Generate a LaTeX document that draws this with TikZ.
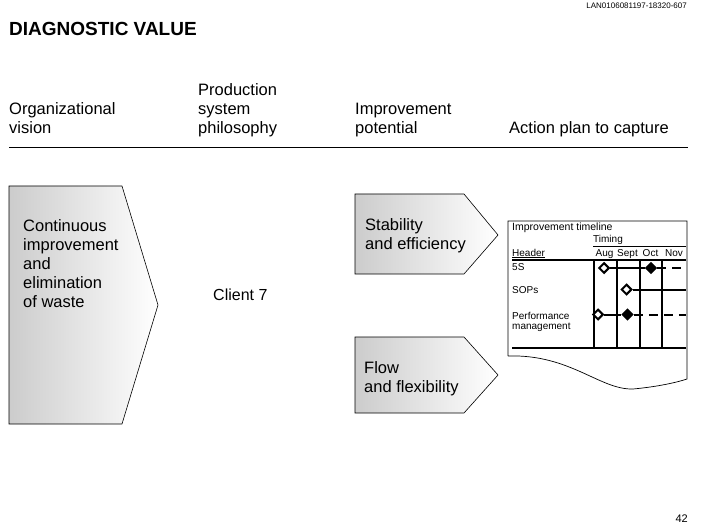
\documentclass[tikz,border=0pt]{standalone}
\usepackage{fontspec}
\setmainfont{Liberation Sans}
\usetikzlibrary{calc,shapes.geometric}
\tikzset{
  hd/.style={anchor=base west,align=left,inner sep=0pt,font=\fontsize{16.5}{19}\selectfont},
  sm/.style={anchor=base west,align=left,inner sep=0pt,font=\fontsize{10}{10.5}\selectfont},
  chevron/.style={draw,line width=.6pt,left color=black!20,right color=white},
  thk/.style={line width=2pt},
  opn/.style={diamond,draw,fill=white,line width=2pt,inner sep=0pt,minimum width=10.5pt,minimum height=10.5pt},
  ful/.style={diamond,fill=black,inner sep=0pt,minimum width=12.5pt,minimum height=12.5pt}
}
\begin{document}
\begin{tikzpicture}[x=1pt,y=-1pt]
\useasboundingbox (0,0) rectangle (706,529);
\node[anchor=base east,inner sep=0pt,font=\fontsize{8}{9}\selectfont] (code) at (687,9) {LAN0106081197-18320-607};
\node[anchor=base west,inner sep=0pt,font=\bfseries\fontsize{19}{22}\selectfont] (title) at (9,36) {DIAGNOSTIC VALUE};
\node[hd] (orgv) at (9,133.5) {Organizational\\vision};
\node[hd] (prod) at (198,133.5) {Production\\system\\philosophy};
\node[hd] (impv) at (355,133.5) {Improvement\\potential};
\node[hd] (act) at (509,133.5) {Action plan to capture};
\draw[line width=.9pt] (9,147.5) -- (688,147.5);
\draw[chevron] (9,186) -- (122,186) -- (158,305) -- (122,424) -- (9,424) -- cycle;
\node[hd] (cont) at (23,307) {Continuous\\improvement\\and\\elimination\\of waste};
\node[hd,font=\fontsize{16}{19}\selectfont] (client) at (213,300) {Client 7};
\draw[chevron] (355,194) -- (464,194) -- (498,235) -- (464,274) -- (355,274) -- cycle;
\node[hd] (stab) at (365,249.5) {Stability\\and efficiency};
\draw[chevron] (355,337) -- (464,337) -- (498,375) -- (464,413) -- (355,413) -- cycle;
\node[hd] (flow) at (364,392) {Flow\\and flexibility};
\draw[line width=.7pt] (508,356) -- (508,221) -- (687,221) -- (687,379) .. controls (675,383) and (655,387) .. (633,389) .. controls (600,390) and (570,354) .. (508,356);
\node[sm,font=\fontsize{10.5}{11}\selectfont] (tline) at (512,230) {Improvement timeline};
\node[sm] (timing) at (593,243) {Timing};
\draw[line width=1.6pt] (593,246.5) -- (686,246.5);
\node[sm] (hdr) at (512,256.5) {Header};
\draw[line width=.8pt] ($(hdr.base west)+(0,1.3)$) -- ($(hdr.base east)+(0,1.3)$);
\foreach \m/\x in {Aug/604.5,Sept/627.5,Oct/650.5,Nov/674}
  \node[sm,anchor=base] (m\m) at (\x,256.5) {\m};
\draw[thk] (512,259.5) -- (686,259.5);
\draw[thk] (512,347.5) -- (686,347.5);
\foreach \x in {594,616.5,639.5,662}
  \draw[thk] (\x,259.5) -- (\x,347.5);
\node[sm] (r1) at (512,270) {5S};
\node[sm] (r2) at (512,293) {SOPs};
\node[sm] (r3) at (512,329.5) {Performance\\management};
\node[opn] (o1) at (604,268) {}; \node[ful] (f1) at (651,268) {}; \coordinate (e1) at (686,268);
\node[opn] (o2) at (626.5,289.5) {}; \coordinate (e2) at (686,289.5);
\node[opn] (o3) at (598,314.5) {}; \node[ful] (f3) at (627.5,314.5) {}; \coordinate (e3) at (686,314.5);
\draw[thk] (o1) -- (f1);
\draw[thk,dash pattern=on 9pt off 6pt] (f1) -- (e1);
\draw[thk] (o2) -- (e2);
\draw[thk] (o3) -- (f3);
\draw[thk,dash pattern=on 9pt off 6pt] (f3) -- (e3);
\node[anchor=base east,inner sep=0pt,font=\fontsize{11}{12}\selectfont] (pg) at (688,522) {42};
\end{tikzpicture}
\end{document}
